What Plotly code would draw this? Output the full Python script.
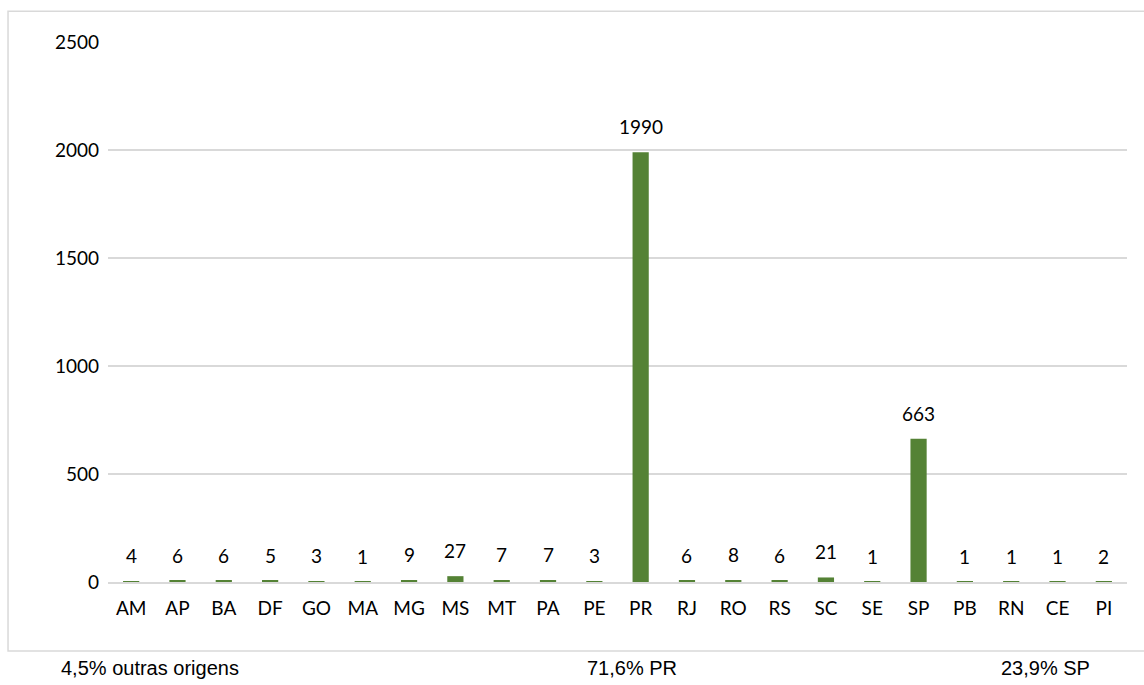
import plotly.graph_objects as go

# states and number of records per state
states = ['AM', 'AP', 'BA', 'DF', 'GO', 'MA', 'MG', 'MS', 'MT', 'PA', 'PE',
          'PR', 'RJ', 'RO', 'RS', 'SC', 'SE', 'SP', 'PB', 'RN', 'CE', 'PI']
counts = [4, 6, 6, 5, 3, 1, 9, 27, 7, 7, 3,
          1990, 6, 8, 6, 21, 1, 663, 1, 1, 1, 2]

y_ticks = [0, 500, 1000, 1500, 2000, 2500]

# share labels under the chart
share_labels = ['4,5% outras origens', '71,6% PR', '23,9% SP']
share_x = [0.041, 0.514, 0.92]

green = '#548235'
grid = '#d9d9d9'
font_main = 'Lato, Calibri, sans-serif'

fig = go.Figure()
fig.add_trace(go.Bar(
    x=states,
    y=counts,
    marker=dict(color=green, line=dict(width=0)),
    hoverinfo='x+y',
))

# value labels above bars
for s, v in zip(states, counts):
    fig.add_annotation(
        x=s, y=v, text=str(v), showarrow=False,
        xref='x', yref='y', yanchor='bottom', yshift=12,
        font=dict(family=font_main, size=19, color='#000000'),
    )

for t, x in zip(share_labels, share_x):
    fig.add_annotation(
        x=x, y=-0.159, xref='paper', yref='paper', text=t, showarrow=False,
        xanchor='center', yanchor='middle',
        font=dict(family='Liberation Sans, Arial, sans-serif', size=20, color='#000000'),
    )

# chart border
fig.add_shape(
    type='rect', xref='paper', yref='paper',
    x0=-0.0981, x1=1.03, y0=-0.1278, y1=1.057,
    line=dict(color=grid, width=1.5), fillcolor='rgba(0,0,0,0)', layer='below',
)

fig.update_layout(
    width=1144, height=685,
    margin=dict(l=108, r=17, t=42, b=103),
    paper_bgcolor='white', plot_bgcolor='white',
    bargap=0.65,
    showlegend=False,
    font=dict(family=font_main, size=19, color='#000000'),
)
fig.update_xaxes(
    showgrid=False, showline=True, linecolor=grid, linewidth=1.5,
    ticks='', ticklabelstandoff=8,
    tickfont=dict(family=font_main, size=19, color='#000000'),
)
fig.update_yaxes(
    range=[0, 2500], tickvals=y_ticks, showgrid=True, gridcolor=grid, gridwidth=1.5,
    zeroline=False, showline=False, ticks='', ticklabelstandoff=8,
    tickfont=dict(family=font_main, size=19, color='#000000'),
)

fig.write_html('out.html', config={'displayModeBar': False},
               post_script="document.body.style.margin='0';")
